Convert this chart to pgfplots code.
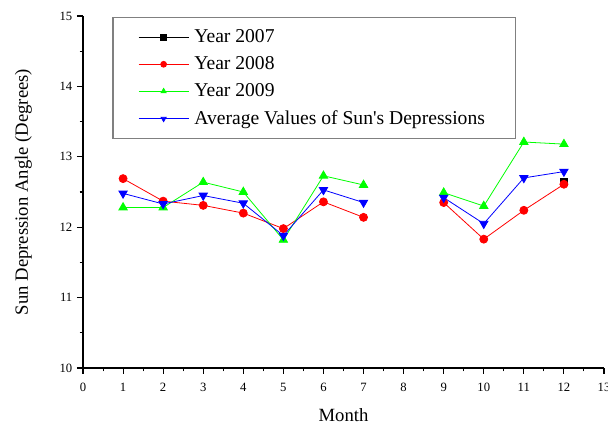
\documentclass[border=0pt]{standalone}
\usepackage{fontspec}
\setmainfont{Liberation Serif}
\usepackage{pgfplots}
\pgfplotsset{compat=1.18}
\begin{document}
\begin{tikzpicture}
\begin{axis}[
  scale only axis, width=390.75pt, height=264pt,
  xmin=0, xmax=13, ymin=10, ymax=15,
  axis lines=left, axis line style={-, line width=0.9pt},
  xtick={0,...,13}, ytick={10,...,15},
  minor x tick num=1, minor y tick num=1,
  tick align=outside, major tick length=4.5pt, minor tick length=2.5pt,
  every tick/.style={black, line width=0.8pt},
  tick label style={font=\fontsize{9.5}{10}\selectfont},
  xticklabel style={yshift=-3pt},
  /pgf/number format/assume math mode=true,
  xlabel={Month}, ylabel={Sun Depression Angle (Degrees)},
  label style={font=\fontsize{14}{16}\selectfont},
  xlabel style={yshift=-6pt},
  ylabel style={yshift=14pt},
  unbounded coords=jump,
  legend style={at={(0.056,0.997)}, anchor=north west, draw=gray, line width=1pt,
    inner xsep=19pt, inner ysep=7pt, font=\fontsize{14.7}{17}\selectfont, row sep=5pt,
    nodes={inner xsep=4pt}},
  legend cell align=left,
  legend image code/.code={\draw[mark size=2.2pt, mark repeat=2,mark phase=2] plot coordinates {(0cm,0cm) (0.66cm,0cm) (1.32cm,0cm)};},
]
\addplot[black, line width=0.6pt, mark=square*, mark size=2.5pt] coordinates {(12,12.64)};
\addlegendentry{Year 2007}
\addplot[red, line width=0.6pt, mark=*, mark size=3pt] coordinates {
(1,12.69) (2,12.37) (3,12.31) (4,12.20) (5,11.98) (6,12.36) (7,12.14) (8,nan)
(9,12.35) (10,11.83) (11,12.24) (12,12.61)};
\addlegendentry{Year 2008}
\addplot[green, line width=0.6pt, mark=triangle*, mark size=3.6pt] coordinates {
(1,12.28) (2,12.28) (3,12.64) (4,12.50) (5,11.82) (6,12.73) (7,12.60) (8,nan)
(9,12.49) (10,12.30) (11,13.21) (12,13.18)};
\addlegendentry{Year 2009}
\addplot[blue, line width=0.6pt, mark=triangle*, mark options={rotate=180}, mark size=3.6pt] coordinates {
(1,12.48) (2,12.33) (3,12.45) (4,12.34) (5,11.88) (6,12.53) (7,12.35) (8,nan)
(9,12.42) (10,12.05) (11,12.70) (12,12.79)};
\addlegendentry{Average Values of Sun\textquotesingle s Depressions}
\end{axis}
\pgfresetboundingbox
\path ([shift={(-62.25pt,-45pt)}]current axis.south west) rectangle ([shift={(3pt,12pt)}]current axis.north east);
\end{tikzpicture}
\end{document}
